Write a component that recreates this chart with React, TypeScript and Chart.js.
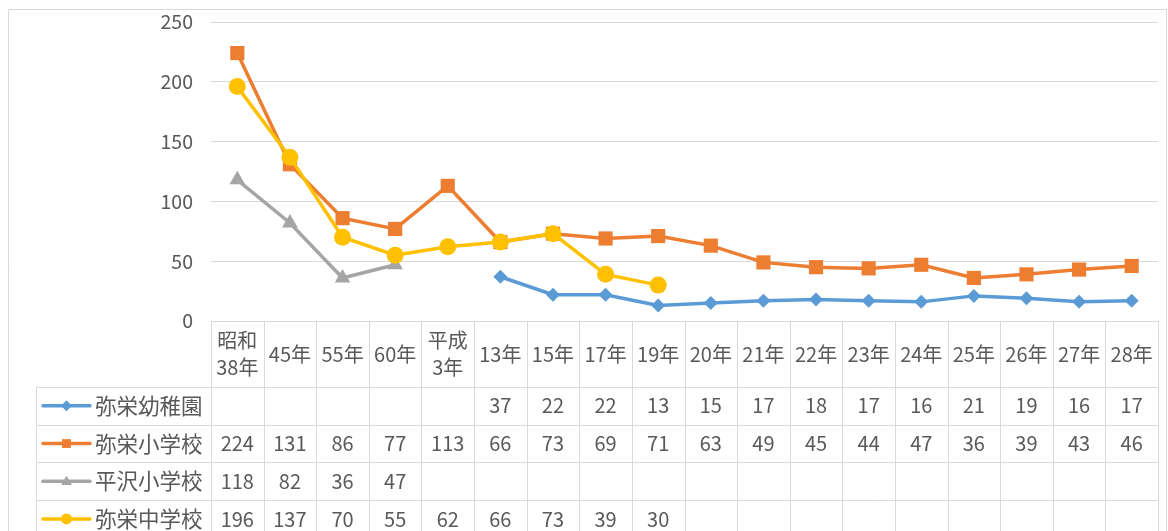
import React, { useEffect, useRef } from "react";
import { Chart, registerables } from "chart.js";

Chart.register(...registerables);

const categories: (string | string[])[] = [
  ["昭和", "38年"], "45年", "55年", "60年", ["平成", "3年"], "13年", "15年", "17年", "19年",
  "20年", "21年", "22年", "23年", "24年", "25年", "26年", "27年", "28年",
];
const kindergarten = [null, null, null, null, null, 37, 22, 22, 13, 15, 17, 18, 17, 16, 21, 19, 16, 17];
const elementary = [224, 131, 86, 77, 113, 66, 73, 69, 71, 63, 49, 45, 44, 47, 36, 39, 43, 46];
const hirasawa = [118, 82, 36, 47, null, null, null, null, null, null, null, null, null, null, null, null, null, null];
const juniorHigh = [196, 137, 70, 55, 62, 66, 73, 39, 30, null, null, null, null, null, null, null, null, null];
const seriesNames = ["弥栄幼稚園", "弥栄小学校", "平沢小学校", "弥栄中学校"];
const seriesColors = ["#5B9BD5", "#ED7D31", "#A5A5A5", "#FFC000"];
const seriesMarkers = ["rectRot", "rect", "triangle", "circle"];
const yTicks = { min: 0, max: 250, step: 50 };

const FONT = '"Noto Sans CJK JP", "Noto Sans", sans-serif';
const TEXT = "#595959";
const GRID = "#d9d9d9";

function drawMarker(ctx: CanvasRenderingContext2D, kind: string, x: number, y: number, r: number, color: string) {
  ctx.save();
  ctx.fillStyle = color;
  ctx.beginPath();
  if (kind === "rectRot") {
    ctx.moveTo(x, y - r);
    ctx.lineTo(x + r, y);
    ctx.lineTo(x, y + r);
    ctx.lineTo(x - r, y);
  } else if (kind === "rect") {
    ctx.rect(x - r * 0.8, y - r * 0.8, r * 1.6, r * 1.6);
  } else if (kind === "triangle") {
    ctx.moveTo(x, y - r);
    ctx.lineTo(x + r, y + r * 0.7);
    ctx.lineTo(x - r, y + r * 0.7);
  } else {
    ctx.arc(x, y, r, 0, Math.PI * 2);
  }
  ctx.closePath();
  ctx.fill();
  ctx.restore();
}

const tablePlugin = {
  id: "dataTable",
  afterDraw(chart: any) {
    const ctx: CanvasRenderingContext2D = chart.ctx;
    const area = chart.chartArea;
    const xs = chart.scales.x;
    const n = categories.length;
    const colW = (area.right - area.left) / n;
    const headerTop = area.bottom;
    const headerBottom = headerTop + 66;
    const rowH = 37.7;
    const legendLeft = 36;
    const rows = [kindergarten, elementary, hirasawa, juniorHigh];

    ctx.save();
    ctx.strokeStyle = GRID;
    ctx.lineWidth = 1;
    ctx.beginPath();
    ctx.moveTo(8.5, 540);
    ctx.lineTo(8.5, 9.5);
    ctx.lineTo(1166.5, 9.5);
    ctx.lineTo(1166.5, 540);
    ctx.stroke();

    ctx.beginPath();
    ctx.moveTo(area.left, Math.round(headerTop) + 0.5);
    ctx.lineTo(area.right, Math.round(headerTop) + 0.5);
    for (let r = 0; r <= rows.length; r++) {
      const y = Math.round(headerBottom + r * rowH) + 0.5;
      ctx.moveTo(legendLeft, y);
      ctx.lineTo(area.right, y);
    }
    for (let c = 0; c <= n; c++) {
      const x = Math.round(area.left + c * colW) + 0.5;
      ctx.moveTo(x, headerTop);
      ctx.lineTo(x, 540);
    }
    ctx.moveTo(legendLeft + 0.5, headerBottom);
    ctx.lineTo(legendLeft + 0.5, 540);
    ctx.stroke();

    ctx.fillStyle = TEXT;
    ctx.font = `20px ${FONT}`;
    ctx.textAlign = "center";
    ctx.textBaseline = "middle";
    const hc = (headerTop + headerBottom) / 2;
    categories.forEach((c, i) => {
      const x = xs.getPixelForValue(i);
      if (Array.isArray(c)) {
        ctx.fillText(c[0], x, hc - 14);
        ctx.fillText(c[1], x, hc + 13);
      } else {
        ctx.fillText(c, x, hc);
      }
    });

    rows.forEach((vals, r) => {
      const cy = headerBottom + r * rowH + rowH / 2;
      ctx.save();
      ctx.strokeStyle = seriesColors[r];
      ctx.lineWidth = 3.5;
      ctx.lineCap = "round";
      ctx.beginPath();
      ctx.moveTo(43, cy);
      ctx.lineTo(90, cy);
      ctx.stroke();
      ctx.restore();
      drawMarker(ctx, seriesMarkers[r], 66.5, cy, 5.5, seriesColors[r]);
      ctx.fillStyle = TEXT;
      ctx.textAlign = "left";
      ctx.font = `21.5px ${FONT}`;
      ctx.fillText(seriesNames[r], 95, cy);
      ctx.textAlign = "center";
      ctx.font = `20px ${FONT}`;
      vals.forEach((v, i) => {
        if (v === null || v === undefined) return;
        ctx.fillText(String(v), xs.getPixelForValue(i), cy);
      });
    });
    ctx.restore();
  },
};

export default function App() {
  const ref = useRef<HTMLCanvasElement>(null);
  useEffect(() => {
    document.body.style.margin = "0";
    const mk = (idx: number, data: (number | null)[], radius: number, order: number) => ({
      label: seriesNames[idx],
      data,
      borderColor: seriesColors[idx],
      backgroundColor: seriesColors[idx],
      pointBackgroundColor: seriesColors[idx],
      pointBorderColor: seriesColors[idx],
      pointStyle: seriesMarkers[idx],
      pointRadius: radius,
      pointBorderWidth: 0,
      borderWidth: 3.5,
      tension: 0,
      spanGaps: false,
      order,
    });
    const chart = new Chart(ref.current as HTMLCanvasElement, {
      type: "line",
      data: {
        labels: categories.map((c) => (Array.isArray(c) ? c.join("") : c)),
        datasets: [
          mk(0, kindergarten, 7, 4),
          mk(1, elementary, 10, 3),
          mk(2, hirasawa, 9, 2),
          mk(3, juniorHigh, 8.5, 1),
        ],
      },
      options: {
        animation: false,
        responsive: false,
        layout: { padding: { left: 0, right: 4, top: 22, bottom: 210 } },
        plugins: { legend: { display: false }, tooltip: { enabled: false }, title: { display: false } },
        scales: {
          x: {
            type: "category",
            offset: true,
            display: false,
            afterFit: (s: any) => {
              s.paddingLeft = 0;
              s.paddingRight = 0;
              s.paddingTop = 0;
              s.paddingBottom = 0;
            },
          },
          y: {
            min: yTicks.min,
            max: yTicks.max,
            ticks: { stepSize: yTicks.step, color: TEXT, font: { size: 19.5, family: FONT }, padding: 18 },
            grid: { color: GRID, lineWidth: 1, drawTicks: false },
            border: { display: false },
            afterFit: (s: any) => {
              s.width = 211;
              s.paddingTop = 0;
              s.paddingBottom = 0;
            },
          },
        },
      } as any,
      plugins: [tablePlugin],
    });
    return () => chart.destroy();
  }, []);
  return (
    <div style={{ position: "fixed", left: 0, top: 0, width: 1168, height: 531, background: "#fff" }}>
      <canvas ref={ref} width={1168} height={531} style={{ width: 1168, height: 531, display: "block" }} />
    </div>
  );
}
